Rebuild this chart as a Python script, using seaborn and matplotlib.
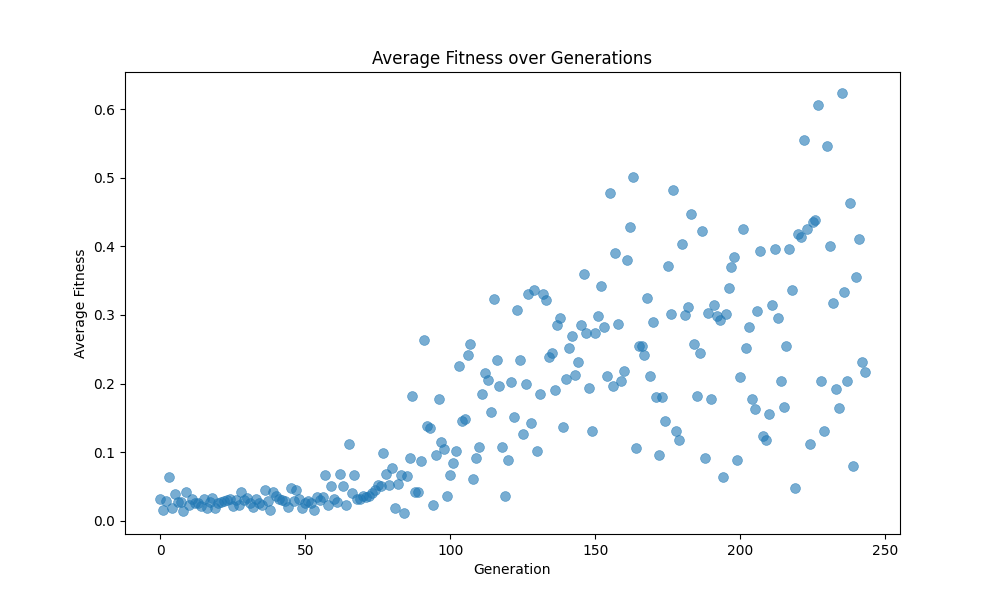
import matplotlib
matplotlib.use("Agg")
import matplotlib.pyplot as plt
import seaborn as sns
import pandas as pd

fitness_low = [
    .031, .016, .029, .064, .019, .039, .027, .027, .014, .042,
    .022, .031, .026, .025, .021, .031, .018, .027, .033, .019,
    .025, .027, .028, .030, .032, .021, .030, .023, .042, .030,
    .033, .025, .020, .031, .026, .023, .044, .029, .015, .041,
    .036, .031, .030, .028, .020, .047, .029, .044, .031, .019,
    .026, .028, .025, .016, .035, .030, .034, .067, .023, .051,
    .032, .027, .068, .051, .023, .111, .040, .066, .032, .032,
    .036, .035, .036, .040, .045, .052, .051, .099, .068, .052,
]
fitness_mid = [
    .077, .019, .054, .067, .011, .065, .092, .182, .041, .042,
    .087, .264, .138, .135, .023, .095, .178, .114, .105, .036,
    .067, .084, .102, .226, .145, .148, .241, .257, .061, .092,
    .107, .184, .216, .205, .159, .324, .234, .197, .108, .036,
    .089, .202, .151, .308, .235, .127, .200, .331, .142, .336,
    .102, .184, .331, .322, .238, .244, .191, .285, .296, .136,
    .207, .252, .270, .213, .231, .286, .360, .274, .194, .130,
    .274, .298, .343, .283, .211, .478, .197, .391, .287, .203,
]
fitness_high = [
    .218, .380, .429, .502, .106, .255, .255, .242, .325, .211,
    .290, .180, .096, .181, .146, .372, .302, .483, .131, .117,
    .403, .300, .312, .447, .257, .182, .245, .423, .092, .303,
    .177, .314, .299, .293, .064, .302, .340, .370, .384, .088,
    .210, .426, .252, .283, .178, .163, .306, .394, .123, .117,
    .156, .315, .397, .296, .203, .166, .255, .397, .337, .048,
    .418, .414, .556, .426, .112, .435, .439, .607, .204, .131,
    .547, .401, .317, .192, .164, .624, .334, .204, .464, .080,
    .356, .411, .232, .217,
]

fitness = fitness_low + fitness_mid + fitness_high
generations = list(range(len(fitness)))

df = pd.DataFrame({"Generation": generations, "Average Fitness": fitness})

fig, ax = plt.subplots(figsize=(10, 6), dpi=100)
sns.scatterplot(data=df, x="Generation", y="Average Fitness", ax=ax,
                color="#1f77b4", alpha=0.6, s=50, edgecolor="#1f77b4", linewidth=0.5)
ax.set_title("Average Fitness over Generations")
ax.set_xlabel("Generation")
ax.set_ylabel("Average Fitness")
fig.savefig("out.png", dpi=100)
